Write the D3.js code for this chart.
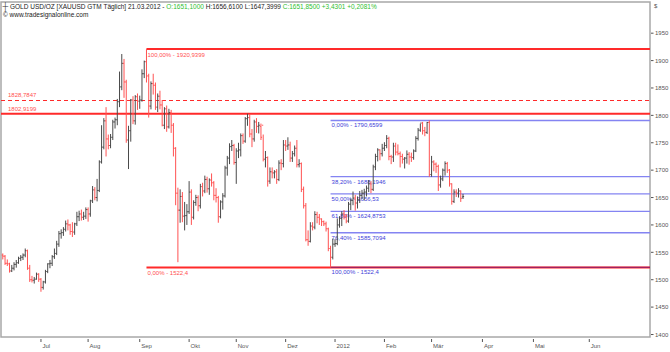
<!DOCTYPE html>
<html>
<head>
<meta charset="utf-8">
<script src="https://cdn.jsdelivr.net/npm/d3@7"></script>
<style>
  body { margin: 0; background: #fff; }
  svg { display: block; font-family: "Liberation Sans", Arial, sans-serif; }
</style>
</head>
<body>
<div id="chart"></div>
<script>
// first bar of the chart, bars follow on weekdays
const startDate = "2011-06-08";

const opens = [
  1545,1543,1530,1529,1516,1521,1528,1531,1539,1541,1545,1553,1521,1500,1499,1501,1510, // Jun
  1501,1486,1496,1515,1529,1530,1542,1548,1565,1584,1586,1592,1602,1600,1588,1587,1602,1615,1620,1614,1616, // Jul
  1628,1620,1644,1664,1650,1663,1715,1742,1790,1757,1745,1760,1788,1792,1825,1852,1895,1861,1755,1772,1828,1790,1834, // Aug
  1826,1828,1876,1898,1872,1817,1858,1855,1815,1835,1819,1782,1812,1779,1805,1782,1740,1658,1627,1652,1616,1617, // Sep
  1624,1660,1614,1641,1650,1635,1670,1662,1683,1666,1682,1677,1654,1650,1615,1642,1653,1704,1722,1743,1745, // Okt
  1714,1735,1737,1763,1753,1794,1796,1766,1757,1788,1780,1780,1782,1720,1723,1680,1697,1695,1697,1683,1713,1712, // Nov
  1746,1744,1746,1722,1730,1740,1710,1712,1665,1635,1573,1570,1598,1596,1619,1614,1611,1606,1602,1593,1557,1541, // Dez
  1565,1566,1600,1612,1620,1616,1607,1638,1645,1649,1640,1646,1654,1658,1660,1667,1675,1665,1706,1725,1737,1730, // Jan
  1740,1745,1758,1725,1724,1744,1733,1730,1725,1720,1722,1729,1724,1723,1735,1758,1773,1786,1772,1769,1787, // Feb
  1692,1715,1711,1707,1673,1684,1700,1712,1700,1675,1643,1660,1658,1662,1651.1 // Mar
];
const highs = [
  1548,1545,1537,1531,1527,1532,1536,1542,1545,1548,1557,1555,1527,1507,1505,1513,1512,
  1503,1498,1518,1530,1536,1545,1557,1571,1589,1592,1596,1608,1610,1602,1605,1604,1624,1626,1628,1624,1632,
  1632,1646,1671,1669,1684,1718,1782,1795,1815,1765,1766,1792,1796,1830,1880,1912,1903,1865,1781,1830,1835,1837,1840,
  1836,1884,1900,1920.94,1876,1862,1876,1860,1840,1845,1828,1815,1818,1812,1810,1786,1742,1668,1665,1660,1642,1638,
  1680,1665,1645,1655,1654,1675,1677,1690,1688,1685,1694,1680,1667,1653,1645,1658,1708,1726,1749,1755,1748,
  1740,1750,1767,1767,1797,1803,1802,1775,1792,1795,1788,1785,1765,1735,1725,1705,1705,1700,1702,1718,1720,1755,
  1755,1760,1752,1735,1745,1755,1720,1714,1670,1640,1590,1605,1605,1625,1624,1620,1612,1608,1606,1595,1562,1575,
  1574,1612,1616,1625,1627,1620,1642,1648,1661,1655,1652,1662,1664,1666,1672,1682,1680,1710,1730,1740,1738,1748,
  1751,1764,1761,1728,1750,1750,1747,1734,1730,1724,1736,1733,1732,1738,1762,1777,1785,1788,1779,1788,1790.66,
  1726,1718,1714,1710,1690,1703,1716,1715,1702,1676,1665,1665,1667,1663,1656.61
];
const lows = [
  1537,1527,1525,1513,1514,1517,1522,1529,1534,1536,1541,1518,1496,1495,1493,1500,1496,
  1478,1482,1493,1512,1521,1525,1538,1545,1560,1575,1580,1588,1590,1582,1578,1582,1598,1607,1608,1609,1611,
  1606,1615,1640,1645,1643,1660,1712,1738,1725,1738,1740,1755,1776,1782,1815,1846,1832,1750,1702,1752,1784,1783,1810,
  1812,1825,1868,1860,1796,1811,1838,1810,1806,1811,1780,1775,1770,1776,1768,1725,1636,1532,1604,1605,1590,1600,
  1620,1600,1610,1635,1625,1630,1652,1658,1659,1655,1670,1645,1641,1604,1612,1628,1650,1690,1711,1735,1710,
  1675,1722,1725,1748,1750,1781,1760,1742,1752,1768,1767,1755,1716,1705,1670,1675,1685,1685,1675,1680,1700,1705,
  1735,1737,1715,1715,1725,1705,1705,1660,1630,1570,1562,1568,1590,1592,1603,1600,1598,1598,1588,1552,1522.4,1537,
  1560,1563,1595,1598,1610,1603,1604,1627,1636,1626,1630,1640,1648,1645,1652,1660,1658,1662,1700,1716,1718,1725,
  1735,1740,1718,1711,1715,1727,1727,1705,1712,1703,1712,1710,1715,1719,1733,1754,1770,1765,1762,1766,1688,
  1688,1698,1695,1662,1668,1680,1690,1695,1670,1637,1640,1651,1650,1642,1647.3999
];
const closes = [
  1543,1530,1529,1516,1521,1528,1531,1539,1541,1545,1553,1521,1500,1499,1501,1510,1501,
  1486,1496,1515,1529,1530,1542,1548,1565,1584,1586,1592,1602,1600,1588,1587,1602,1615,1620,1614,1616,1628,
  1620,1644,1664,1650,1663,1715,1742,1790,1757,1745,1760,1788,1792,1825,1852,1895,1861,1755,1772,1828,1790,1834,1826,
  1828,1876,1898,1872,1817,1858,1855,1815,1835,1819,1782,1812,1779,1805,1782,1740,1658,1627,1652,1616,1617,1624,
  1660,1614,1641,1650,1635,1670,1662,1683,1666,1682,1677,1654,1650,1615,1642,1653,1704,1722,1743,1745,1714,
  1735,1737,1763,1753,1794,1796,1766,1757,1788,1780,1782,1760,1720,1723,1680,1697,1695,1697,1683,1713,1712,1746,
  1744,1746,1722,1730,1740,1710,1712,1665,1635,1573,1570,1598,1596,1619,1614,1611,1606,1602,1593,1557,1541,1565,
  1566,1600,1612,1620,1616,1607,1638,1645,1649,1640,1646,1654,1658,1660,1667,1675,1665,1706,1725,1737,1730,1740,
  1745,1758,1725,1724,1744,1733,1730,1725,1720,1722,1729,1724,1723,1735,1758,1773,1786,1772,1769,1787,1692,
  1715,1711,1707,1673,1684,1700,1712,1700,1675,1643,1660,1658,1662,1648.4199,1651.85
];

// German month labels, January shows the year
const monthLabels = ["2012", "Feb", "Mär", "Apr", "Mai", "Jun", "Jul", "Aug", "Sep", "Okt", "Nov", "Dez"];
const priceTicks = [1400, 1450, 1500, 1550, 1600, 1650, 1700, 1750, 1800, 1850, 1900, 1950];

// horizontal lines drawn over the whole chart
const levelLines = [1828.7847, 1802.9199];
// red retracement from the September high
const redFibFrom = "2011-09-06";
const redFibLevels = [1920.9399, 1522.4];
const redFibPcts = ["100,00%", "0,00%"];
// blue retracement from the December low
const blueFibFrom = "2011-12-29";
const blueFibLevels = [1790.6599, 1688.1946, 1656.53, 1624.8753, 1585.7094, 1522.4];
const blueFibPcts = ["0,00%", "38,20%", "50,00%", "61,80%", "76,40%", "100,00%"];

class GoldChart {
  constructor (opts) {
    this.w = opts.w;
    this.h = opts.h;
    this.left = 1;
    this.right = 650;
    this.top = 2;
    this.bottom = 337;
    this.lastX = 463;      // where the last bar sits
    this.future = 77;      // empty slots after the last bar
    this.up = "#4a4a4a";
    this.down = "#ff5252";
    this.red = "#ff2a2a";
    this.blue = "#8484f2";

    let parse = d3.timeParse("%Y-%m-%d");
    this.fmtDay = d3.timeFormat("%Y-%m-%d");

    // weekdays from the first bar until the right edge
    this.dates = [];
    let d = parse(startDate);
    while (this.dates.length < closes.length + this.future) {
      if (d.getDay() !== 0 && d.getDay() !== 6) this.dates.push(d);
      d = d3.timeDay.offset(d, 1);
    }
  }

  render () {
    this.initializeSVG();
    this.computeScaleFns();
    this.addFrame();
    this.addLevels();
    this.addBars();
    this.addAxis();
    this.addHeader();
  }

  initializeSVG () {
    this.svg = d3.select("#chart")
      .append("svg")
      .attr("width", this.w)
      .attr("height", this.h);
  }

  computeScaleFns () {
    let n = closes.length - 1;
    // the projected space on the right is a bit wider per day
    this.xScale = d3.scaleLinear()
      .domain([-0.8, n, n + this.future])
      .range([this.left, this.lastX, this.right]);

    this.yScale = d3.scaleLinear()
      .domain([1400, 1950])
      .range([334.5, 33.2]);
  }

  indexOf (day) {
    return this.dates.findIndex((d) => this.fmtDay(d) === day);
  }

  addFrame () {
    this.svg.append("rect")
      .attr("x", this.left)
      .attr("y", this.top)
      .attr("width", this.right - this.left)
      .attr("height", this.bottom - this.top)
      .style("fill", "none")
      .style("stroke", "#a8a8a8")
      .style("stroke-width", 1.5);
  }

  addLevels () {
    let g = this.svg.append("g").attr("class", "levels");
    let comma = (v) => String(v).replace(".", ",");

    // plain lines from the left edge
    levelLines.forEach((v, i) => {
      let y = this.yScale(v);
      let line = g.append("line")
        .attr("x1", this.left).attr("x2", this.right)
        .attr("y1", y).attr("y2", y)
        .style("stroke", this.red);

      if (i === 0) {
        line.attr("y1", Math.round(y) + 0.5).attr("y2", Math.round(y) + 0.5)
          .style("stroke-width", 1)
          .style("stroke-dasharray", "4,3");
      } else {
        line.style("stroke-width", 2);
      }

      g.append("text")
        .attr("x", 8)
        .attr("y", y - 2.5)
        .text(comma(v))
        .style("font-size", "6px")
        .style("fill", "#ff5050");
    });

    // red fib
    let rx = this.xScale(this.indexOf(redFibFrom));
    redFibLevels.forEach((v, i) => {
      g.append("line")
        .attr("x1", rx).attr("x2", this.right)
        .attr("y1", this.yScale(v)).attr("y2", this.yScale(v))
        .style("stroke", this.red)
        .style("stroke-width", 2);

      g.append("text")
        .attr("x", rx + 1)
        .attr("y", this.yScale(v) + 7.5)
        .text(redFibPcts[i] + " - " + comma(v))
        .style("font-size", "6px")
        .style("fill", "#ff5050");
    });

    // blue fib
    let bx = this.xScale(this.indexOf(blueFibFrom));
    blueFibLevels.forEach((v, i) => {
      g.append("line")
        .attr("x1", bx).attr("x2", this.right)
        .attr("y1", this.yScale(v)).attr("y2", this.yScale(v))
        .style("stroke", i === blueFibLevels.length - 1 ? "#a02060" : this.blue)
        .style("stroke-width", 1.3);

      g.append("text")
        .attr("x", bx + 1)
        .attr("y", this.yScale(v) + 7)
        .text(blueFibPcts[i] + " - " + comma(v))
        .style("font-size", "6px")
        .style("fill", "#3d3dd8");
    });
  }

  addBars () {
    let bars = this.svg.append("g")
      .attr("class", "bars")
      .selectAll("path")
      .data(closes.map((c, i) => ({i: i, o: opens[i], h: highs[i], l: lows[i], c: c})))
      .enter().append("path");

    bars
      .attr("d", (d) => {
        let x = this.xScale(d.i);
        return `M${x},${this.yScale(d.h)}V${this.yScale(d.l)}` +
          `M${x - 1.1},${this.yScale(d.o)}H${x}` +
          `M${x},${this.yScale(d.c)}H${x + 1.1}`;
      })
      .style("fill", "none")
      .style("stroke-width", 1)
      .style("stroke", (d) => d.c >= d.o ? this.up : this.down);
  }

  addAxis () {
    let axisColor = "#555";

    // price axis on the right
    let yg = this.svg.append("g").attr("class", "y-axis");
    priceTicks.forEach((v) => {
      yg.append("line")
        .attr("x1", this.right + 1).attr("x2", this.right + 3.5)
        .attr("y1", this.yScale(v)).attr("y2", this.yScale(v))
        .style("stroke", axisColor);
      yg.append("text")
        .attr("x", this.right + 5)
        .attr("y", this.yScale(v) + 2.2)
        .text(v)
        .style("font-size", "6px")
        .style("fill", axisColor);
    });
    yg.append("text")
      .attr("x", this.right + 4)
      .attr("y", 8)
      .text("$")
      .style("font-size", "6px")
      .style("fill", axisColor);

    // month ticks at the first trading day of each month
    let xg = this.svg.append("g").attr("class", "x-axis");
    this.dates.forEach((d, i) => {
      if (i === 0 || d.getMonth() === this.dates[i - 1].getMonth()) return;
      let x = this.xScale(i);
      if (x > this.right - 12) return;
      xg.append("line")
        .attr("x1", x).attr("x2", x)
        .attr("y1", this.bottom + 2).attr("y2", this.bottom + 5)
        .style("stroke", axisColor);
      xg.append("text")
        .attr("x", x + 1.5)
        .attr("y", this.bottom + 10.5)
        .text(monthLabels[d.getMonth()])
        .style("font-size", "6px")
        .style("fill", axisColor);
    });
  }

  addHeader () {
    let n = closes.length - 1;
    let f4 = (v) => v.toFixed(4).replace(".", ",");
    let chg = closes[n] - closes[n - 1];
    let pct = chg / closes[n - 1] * 100;
    let day = d3.timeFormat("%d.%m.%Y")(this.dates[n]);
    let green = "#30c030", dark = "#222";

    this.svg.append("text")
      .attr("x", 2.5).attr("y", 9)
      .text("┼")
      .style("font-size", "8px")
      .style("fill", "#333");

    let t = this.svg.append("text")
      .attr("x", 10).attr("y", 8.8)
      .style("font-family", "'Liberation Sans Narrow', 'Liberation Sans', sans-serif")
      .style("font-size", "6.5px");
    t.append("tspan").text(`GOLD USD/OZ [XAUUSD GTM  Täglich] ${day} - `).style("fill", dark);
    t.append("tspan").text(`O:${f4(opens[n])}`).style("fill", green);
    t.append("tspan").text(` H:${f4(highs[n])} L:${f4(lows[n])} `).style("fill", dark);
    t.append("tspan").text(`C:${f4(closes[n])} +${f4(chg)} +${f4(pct)}%`).style("fill", green);

    this.svg.append("text")
      .attr("x", 3).attr("y", 16.8)
      .style("font-family", "'Liberation Sans Narrow', 'Liberation Sans', sans-serif")
      .style("font-size", "6.5px")
      .text("© www.tradesignalonline.com")
      .style("fill", dark);
  }
}

new GoldChart({w: 670, h: 352}).render();
</script>
</body>
</html>
